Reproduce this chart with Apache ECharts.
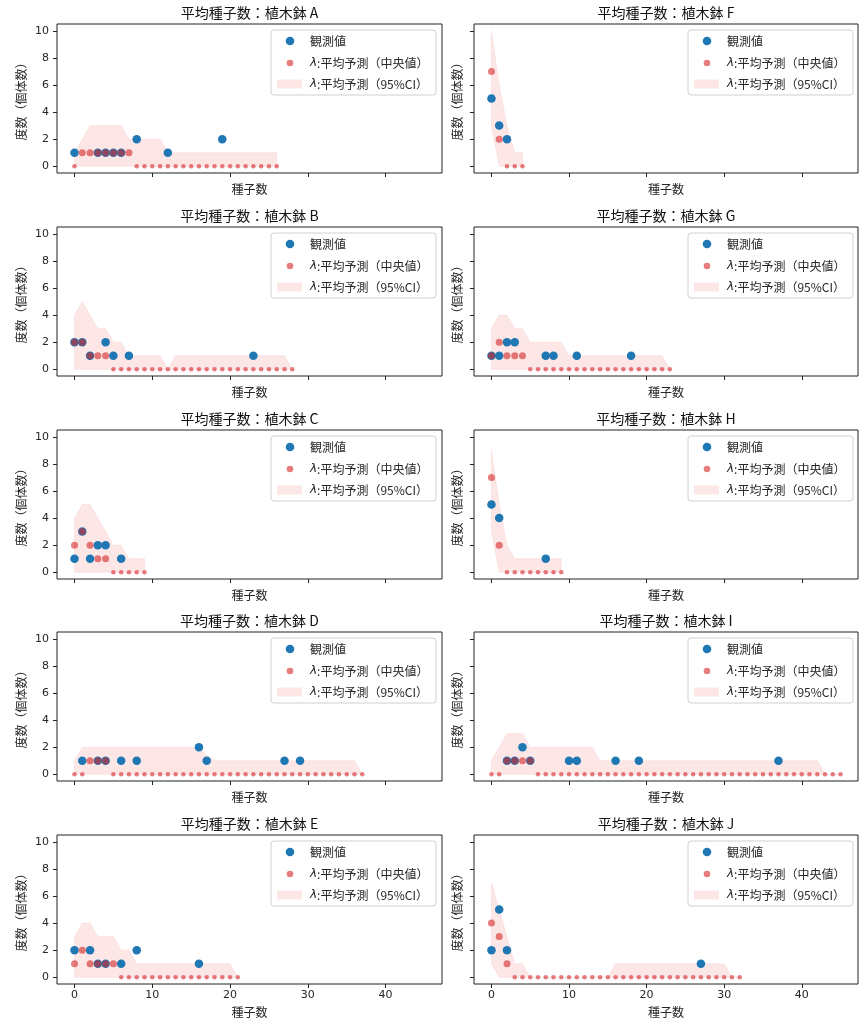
<!DOCTYPE html>
<html><head><meta charset="utf-8">
<script src="https://cdn.jsdelivr.net/npm/echarts@6/dist/echarts.min.js"></script>
<style>html,body{margin:0;padding:0;background:#fff}#c{width:867px;height:1031px}</style>
</head><body><div id="c"></div><script>
// ---------- data ----------
const pots = ['A','B','C','D','E','F','G','H','I','J'];
const xTicks = [0,10,20,30,40];
const yTicks = [0,2,4,6,8,10];

const obsA_x = [0,3,4,5,6,8,12,19];
const obsA_y = [1,1,1,1,1,2,1,2];
const medA = [0,1,1,1,1,1,1,1, 0,0,0,0,0,0,0,0,0,0, 0,0,0,0,0,0,0,0,0];
const upA  = [1,2,3,3,3,3,3,2,2,2,2,2, 1,1,1,1,1,1,1,1,1,1, 1,1,1,1,1];

const obsB_x = [0,1,2,4,5,7,23];
const obsB_y = [2,2,1,2,1,1,1];
const medB = [2,2,1,1,1, 0,0,0,0,0,0,0,0,0,0, 0,0,0,0,0,0,0,0,0,0, 0,0,0,0];
const upB  = [4,5,4,3,3,2,2,1,1,1,1,1,0, 1,1,1,1,1,1,1,1,1,1, 1,1,1,1,1, 0];

const obsC_x = [0,1,2,3,4,6];
const obsC_y = [1,3,1,2,2,1];
const medC = [2,3,2,1,1,0,0,0,0,0];
const upC  = [4,5,5,4,3,2,2,1,1,1];

const obsD_x = [1,3,4,6,8,16,17,27,29];
const obsD_y = [1,1,1,1,1,2,1,1,1];
const medD = [0,0,1,1,1, 0,0,0,0,0,0,0,0,0,0, 0,0,0,0,0,0,0,0,0,0, 0,0,0,0,0,0,0,0,0,0, 0,0,0];
const upD  = [1, 2,2,2,2,2,2,2,2,2,2, 2,2,2,2,2, 1.9,1.4, 1,1,1,1,1,1,1,1,1,1, 1,1,1,1,1,1,1,1,1, 0];

const obsE_x = [0,2,3,4,6,8,16];
const obsE_y = [2,2,1,1,1,2,1];
const medE = [1,2,1,1,1,1, 0,0,0,0,0,0,0,0,0,0, 0,0,0,0,0,0];
const upE  = [3,4,4,3,3,3,2,2, 1,1,1,1,1,1,1,1,1,1, 1,1,1, 0];

const obsF_x = [0,1,2];
const obsF_y = [5,3,2];
const medF = [7,2,0,0,0];
const upF  = [10,6,3,1,1];
const loF  = [3,0,0,0,0];

const obsG_x = [0,1,2,3,7,8,11,18];
const obsG_y = [1,1,2,2,1,1,1,1];
const medG = [1,2,1,1,1, 0,0,0,0,0,0,0,0,0,0, 0,0,0,0,0,0,0,0,0];
const upG  = [3,4,4,3,3, 2,2,2,2,2, 1,1,1,1,1,1,1,1,1,1, 1,1,1, 0];

const obsH_x = [0,1,7];
const obsH_y = [5,4,1];
const medH = [7,2,0,0,0,0,0,0,0,0];
const upH  = [9,5,2,1,1,1,1,1,1,1];
const loH  = [3,0,0,0,0,0,0,0,0,0];

const obsI_x = [2,3,4,5,10,11,16,19,37];
const obsI_y = [1,1,2,1,1,1,1,1,1];
const medI = [0,0,1,1,1,1, 0,0,0,0,0,0,0,0,0,0, 0,0,0,0,0,0,0,0,0,0, 0,0,0,0,0,0,0,0,0,0, 0,0,0,0,0,0,0,0,0,0];
const upI  = [1,2,3,3,3, 2,2,2,2,2,2,2,2,2, 1,1,1,1,1,1,1,1,1,1, 1,1,1,1,1,1,1,1,1,1, 1,1,1,1,1,1,1,1,1, 0,0,0];

const obsJ_x = [0,1,2,27];
const obsJ_y = [2,5,2,1];
const medJ = [4,3,1, 0,0,0,0,0,0,0,0,0,0, 0,0,0,0,0,0,0,0,0,0, 0,0,0,0,0,0,0,0,0,0];
const upJ  = [7,5,3,1,1, 0,0,0,0,0,0,0,0,0,0,0, 1,1,1,1,1,1,1,1,1,1,1,1,1,1,1, 0,0];
const loJ  = [1,0,0];

const OBSX = {A:obsA_x,B:obsB_x,C:obsC_x,D:obsD_x,E:obsE_x,F:obsF_x,G:obsG_x,H:obsH_x,I:obsI_x,J:obsJ_x};
const OBSY = {A:obsA_y,B:obsB_y,C:obsC_y,D:obsD_y,E:obsE_y,F:obsF_y,G:obsG_y,H:obsH_y,I:obsI_y,J:obsJ_y};
const MED = {A:medA,B:medB,C:medC,D:medD,E:medE,F:medF,G:medG,H:medH,I:medI,J:medJ};
const UP = {A:upA,B:upB,C:upC,D:upD,E:upE,F:upF,G:upG,H:upH,I:upI,J:upJ};
const LO = {F:loF,H:loH,J:loJ};

// ---------- style / layout ----------
const CJK = '"Noto Sans CJK JP", sans-serif';
const NUM = '"DejaVu Sans", sans-serif';
const BLUE = '#1f77b4';
const RED = 'rgba(214,39,40,0.6)';
const BAND = 'rgba(240,128,128,0.2)';
const TXT = '#262626';
const GL = [57, 474], GW = [385, 384];
const GT = [24, 227, 430, 632, 835], GH = 149;

const grids = [], xAxes = [], yAxes = [], series = [], graphics = [];
pots.forEach((p, i) => {
  const col = i < 5 ? 0 : 1, row = i % 5;
  const L = GL[col], T = GT[row], W = GW[col];
  grids.push({left: L, top: T, width: W, height: GH, show: true, borderColor: '#222', borderWidth: 1, backgroundColor: 'transparent'});
  xAxes.push({
    type: 'value', gridIndex: i, min: -2.25, max: 47.25, position: 'bottom',
    name: '種子数', nameLocation: 'middle', nameGap: row === 4 ? 22 : 10,
    nameTextStyle: {fontSize: 12, color: TXT, fontFamily: CJK},
    axisLine: {show: false, onZero: false}, splitLine: {show: false},
    axisTick: {show: true, customValues: xTicks, length: 4, lineStyle: {color: '#222'}},
    axisLabel: {show: row === 4, customValues: xTicks, margin: 6, fontSize: 11, color: TXT, fontFamily: NUM}
  });
  yAxes.push({
    type: 'value', gridIndex: i, min: -0.5, max: 10.5, position: 'left',
    name: '度数（個体数）', nameLocation: 'middle', nameRotate: 90, nameGap: col === 0 ? 30 : 11,
    nameTextStyle: {fontSize: 12, color: TXT, fontFamily: CJK},
    axisLine: {show: false, onZero: false}, splitLine: {show: false},
    axisTick: {show: true, customValues: yTicks, length: 4, lineStyle: {color: '#222'}},
    axisLabel: {show: col === 0, customValues: yTicks, margin: 8, fontSize: 11, color: TXT, fontFamily: NUM}
  });
  const up = UP[p], lo = LO[p] || [];
  series.push({
    type: 'custom', xAxisIndex: i, yAxisIndex: i, data: [[0, 0]], silent: true, z: 1,
    renderItem: (params, api) => {
      const pts = [];
      up.forEach((v, x) => pts.push(api.coord([x, v])));
      for (let x = up.length - 1; x >= 0; x--) pts.push(api.coord([x, lo[x] || 0]));
      return {type: 'polygon', shape: {points: pts}, style: {fill: BAND, stroke: 'rgba(240,128,128,0.12)', lineWidth: 1}};
    }
  });
  series.push({
    type: 'scatter', xAxisIndex: i, yAxisIndex: i, z: 3, silent: true,
    data: OBSX[p].map((x, k) => [x, OBSY[p][k]]),
    symbolSize: 8.5, itemStyle: {color: BLUE, opacity: 1}
  });
  series.push({
    type: 'scatter', xAxisIndex: i, yAxisIndex: i, z: 4, silent: true,
    data: MED[p].map((v, x) => [x, v]),
    symbolSize: d => d[1] === 0 ? 4.5 : 7, itemStyle: {color: RED, opacity: 1}
  });
  // title
  graphics.push({type: 'text', x: L + W / 2, y: T - 11, silent: true,
    style: {text: '平均種子数：植木鉢 ' + p, fill: '#111', fontSize: 14, fontFamily: CJK, align: 'center', verticalAlign: 'middle'}});
  // legend
  const bx = L + 214, by = T + 6;
  graphics.push({type: 'rect', shape: {x: bx, y: by, width: 165, height: 65, r: 3}, silent: true,
    style: {fill: 'rgba(255,255,255,0.8)', stroke: '#d0d0d0', lineWidth: 1}, z: 10});
  graphics.push({type: 'circle', shape: {cx: L + 233, cy: T + 17, r: 4.3}, style: {fill: BLUE}, z: 11, silent: true});
  graphics.push({type: 'circle', shape: {cx: L + 233, cy: T + 39, r: 3.3}, style: {fill: RED}, z: 11, silent: true});
  graphics.push({type: 'rect', shape: {x: L + 220, y: T + 55.5, width: 25, height: 9}, style: {fill: BAND}, z: 11, silent: true});
  const rich = {l: {fontStyle: 'italic', fontFamily: NUM, fontSize: 12, fill: TXT}};
  [['観測値', 17], ['{l|λ}:平均予測（中央値）', 39], ['{l|λ}:平均予測（95%CI）', 60]].forEach(([t, dy]) => {
    graphics.push({type: 'text', x: L + 253, y: T + dy, z: 11, silent: true,
      style: {text: t, rich: rich, fill: TXT, fontSize: 12, fontFamily: CJK, align: 'left', verticalAlign: 'middle'}});
  });
});

const chart = echarts.init(document.getElementById('c'), null, {renderer: 'canvas'});
chart.setOption({
  animation: false,
  backgroundColor: '#fff',
  grid: grids, xAxis: xAxes, yAxis: yAxes, series: series, graphic: graphics
});
</script></body></html>
